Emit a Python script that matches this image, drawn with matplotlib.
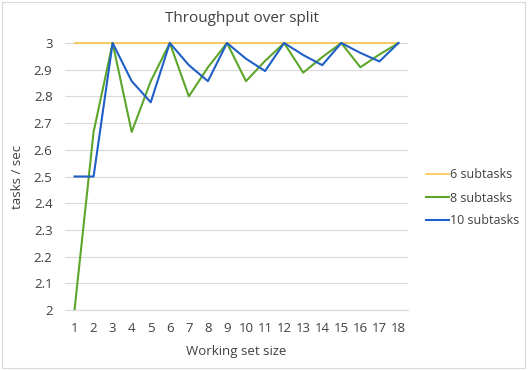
import matplotlib
matplotlib.use('Agg')
import matplotlib.pyplot as plt
from matplotlib.patches import Rectangle

sizes = list(range(1, 19))
sub6 = [3] * 18
sub8 = [2.0, 2.667, 3.0, 2.667, 2.857, 3.0, 2.8, 2.909, 3.0, 2.857, 2.933, 3.0,
        2.889, 2.947, 3.0, 2.909, 2.957, 3.0]
sub10 = [2.5, 2.5, 3.0, 2.857, 2.778, 3.0, 2.917, 2.857, 3.0, 2.941, 2.895, 3.0,
         2.955, 2.917, 3.0, 2.963, 2.931, 3.0]
yticks = [2, 2.1, 2.2, 2.3, 2.4, 2.5, 2.6, 2.7, 2.8, 2.9, 3]

plt.rcParams['font.family'] = ['Open Sans', 'DejaVu Sans']
txt = '#404040'

fig = plt.figure(figsize=(5.28, 3.70), dpi=100)
ax = fig.add_axes([65 / 528, 1 - 310 / 370, (408 - 65) / 528, (310 - 43) / 370])

ax.plot(sizes, sub6, color='#fbbf3c', lw=1.1, label='6 subtasks', clip_on=False)
ax.plot(sizes, sub8, color='#5ea62b', lw=1.5, label='8 subtasks', clip_on=False)
ax.plot(sizes, sub10, color='#1f5fc6', lw=1.5, label='10 subtasks', clip_on=False)

ax.set_xlim(0.5, 18.5)
ax.set_ylim(2, 3)
ax.set_xticks(sizes)
ax.set_yticks(yticks)
ax.set_yticklabels(['%g' % v for v in yticks])
ax.grid(axis='y', color='#d9d9d9', lw=0.8)
ax.set_axisbelow(True)
for s in ['top', 'right', 'left']:
    ax.spines[s].set_visible(False)
ax.spines['bottom'].set_color('#d9d9d9')
ax.tick_params(length=0, colors=txt, labelsize=9.5)
ax.tick_params(axis='x', pad=9)
ax.tick_params(axis='y', pad=9)

ax.set_xlabel('Working set size', color=txt, fontsize=9.5, labelpad=7)
ax.set_ylabel('tasks / sec', color=txt, fontsize=9.5)
ax.yaxis.set_label_coords(-0.12, 0.5)
fig.text(0.5 * (65 + 408) / 528 + 0.01, 1 - 18 / 370, 'Throughput over split',
         ha='center', va='center', fontsize=11, color=txt)

fig.legend(loc='center left', bbox_to_anchor=(426 / 528, 1 - 198 / 370),
           frameon=False, borderpad=0, borderaxespad=0,
           fontsize=9, labelcolor=txt, handlelength=1.8, handletextpad=0.1,
           labelspacing=0.8)

fig.patches.append(Rectangle((2 / 528, 2 / 370), 523 / 528, 366 / 370,
                             transform=fig.transFigure, fill=False,
                             edgecolor='#d9d9d9', lw=0.8))

fig.savefig('out.png', dpi=100)
